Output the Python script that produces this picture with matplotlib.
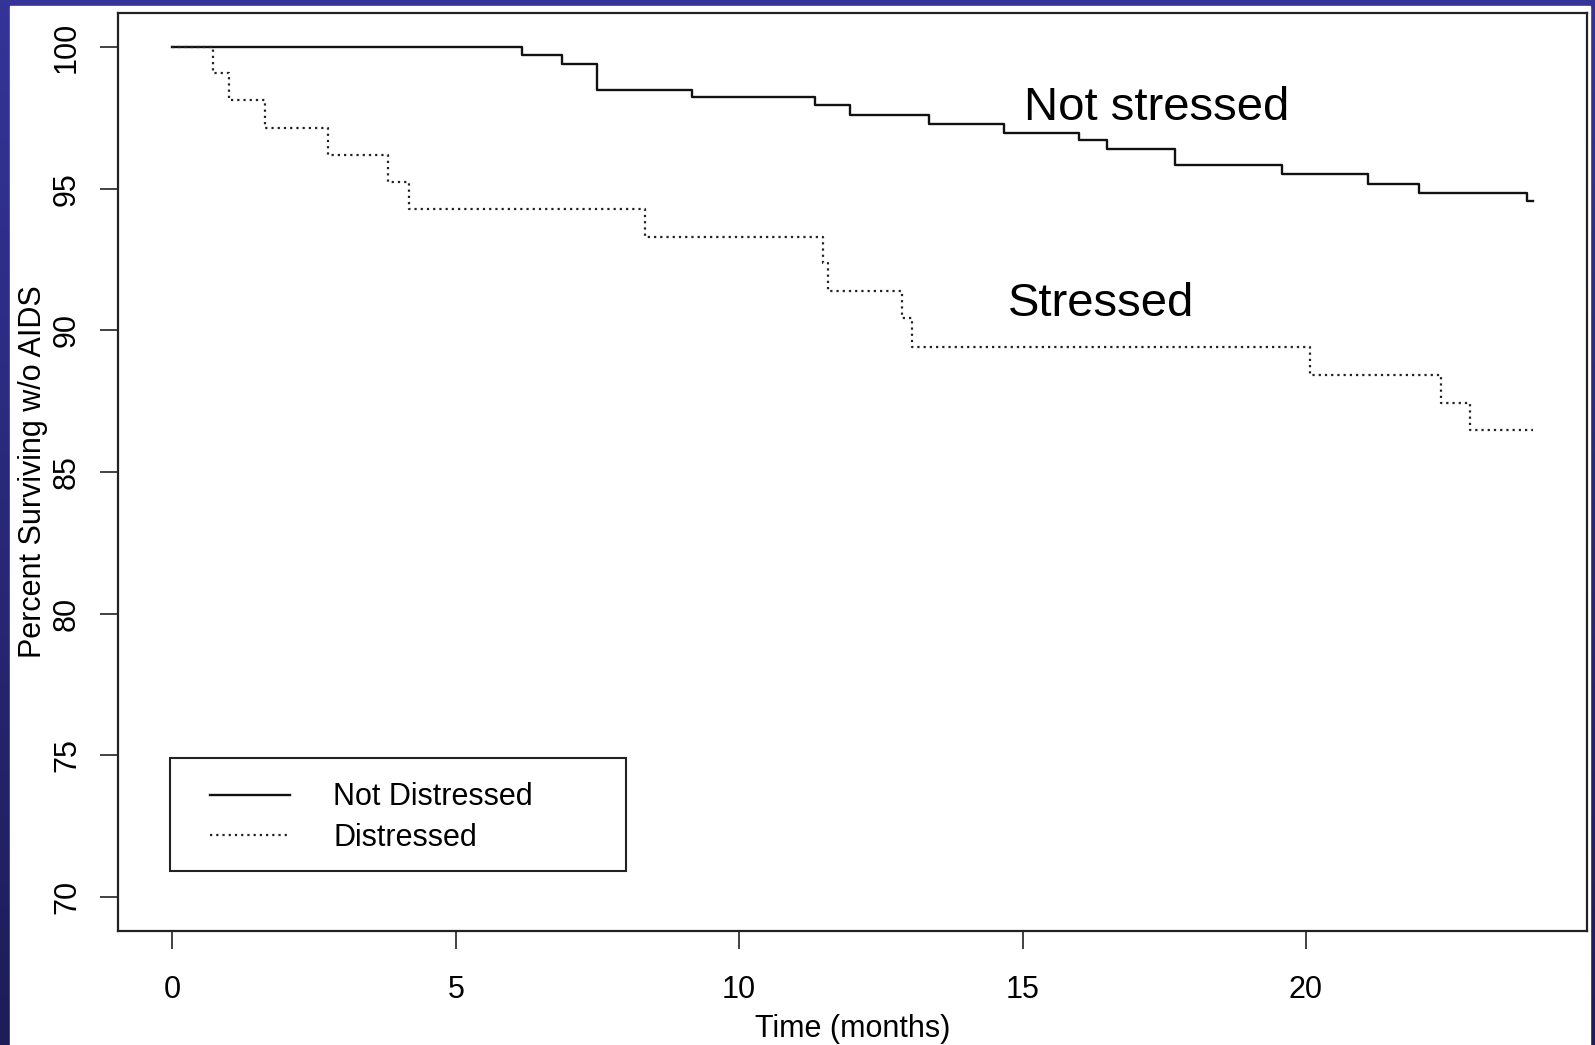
import numpy as np
import matplotlib.pyplot as plt
from matplotlib.patches import Rectangle
from matplotlib.colors import LinearSegmentedColormap

plt.rcParams['font.family'] = ['Liberation Sans', 'DejaVu Sans']

# Kaplan-Meier style curves (months, percent)
not_time = [0, 6.17, 6.88, 7.5, 9.16, 11.33, 11.96, 13.35, 14.67, 15.99, 16.49, 17.69, 19.58, 21.1, 21.99, 23.9, 24.0]
not_surv = [100, 99.72, 99.4, 98.5, 98.22, 97.94, 97.59, 97.3, 96.98, 96.71, 96.41, 95.82, 95.51, 95.18, 94.86, 94.55, 94.55]

stress_time = [0, 0.71, 1.0, 1.63, 2.75, 3.81, 4.18, 8.33, 11.48, 11.57, 12.87, 13.05, 20.08, 22.39, 22.89, 24.0]
stress_surv = [100, 99.09, 98.12, 97.14, 96.2, 95.23, 94.27, 93.29, 92.38, 91.38, 90.44, 89.42, 88.43, 87.45, 86.47, 86.47]

legend_labels = ['Not Distressed', 'Distressed']
x_ticks = [0, 5, 10, 15, 20]
y_ticks = [70, 75, 80, 85, 90, 95, 100]

W, H = 1595, 1045
fig = plt.figure(figsize=(W / 100, H / 100), dpi=100)

# slide background: blue frame with white page
bg = fig.add_axes([0, 0, 1, 1], zorder=-10)
grad = np.linspace(0, 1, 256).reshape(-1, 1)
cmap = LinearSegmentedColormap.from_list('slide', ['#343499', '#1d1d58'])
bg.imshow(grad, cmap=cmap, aspect='auto', extent=[0, 1, 0, 1], origin='upper')
bg.add_patch(Rectangle((10 / W, 0), (1590 - 10) / W, 1 - 6 / H, color='white', transform=bg.transAxes))
bg.set_xlim(0, 1)
bg.set_ylim(0, 1)
bg.axis('off')

ax = fig.add_axes([118 / W, 1 - 931 / H, (1587 - 118) / W, (931 - 13) / H])
ax.set_facecolor('white')

line_nd, = ax.step(not_time, not_surv, where='post', color='#111111', lw=1.7)
line_d, = ax.step(stress_time, stress_surv, where='post', color='#222222', lw=1.6,
                  linestyle=(0, (1, 1.8)))

ax.set_xlim(-0.96, 24.96)
ax.set_ylim(68.8, 101.2)
ax.set_xticks(x_ticks)
ax.set_yticks(y_ticks)
ax.tick_params(axis='both', labelsize=22, length=13, width=1.3, color='#333333')
ax.tick_params(axis='x', pad=19)
ax.tick_params(axis='y', labelrotation=90, pad=13)
for lbl in ax.get_yticklabels():
    lbl.set_va('center')

for s in ax.spines.values():
    s.set_linewidth(1.6)
    s.set_color('#222222')

ax.set_xlabel('Time (months)', fontsize=22, labelpad=6)
ax.set_ylabel('Percent Surviving w/o AIDS', fontsize=22, labelpad=3)

# legend box like R's legend(0, 75, ...)
ax.add_patch(Rectangle((-0.035, 70.91), 8.03, 3.98, fill=False, lw=1.5, edgecolor='#222222', zorder=3))
ax.legend([line_nd, line_d], legend_labels, loc='upper left', bbox_to_anchor=(0.67, 74.05),
          bbox_transform=ax.transData, frameon=False, fontsize=22, borderpad=0, borderaxespad=0,
          handlelength=2.62, handletextpad=1.4, labelspacing=0.34)

ax.text(15.03, 97.42, 'Not stressed', fontsize=34, va='baseline', ha='left')
ax.text(14.75, 90.52, 'Stressed', fontsize=34, va='baseline', ha='left')

plt.savefig('out.png', dpi=100)
plt.close(fig)
